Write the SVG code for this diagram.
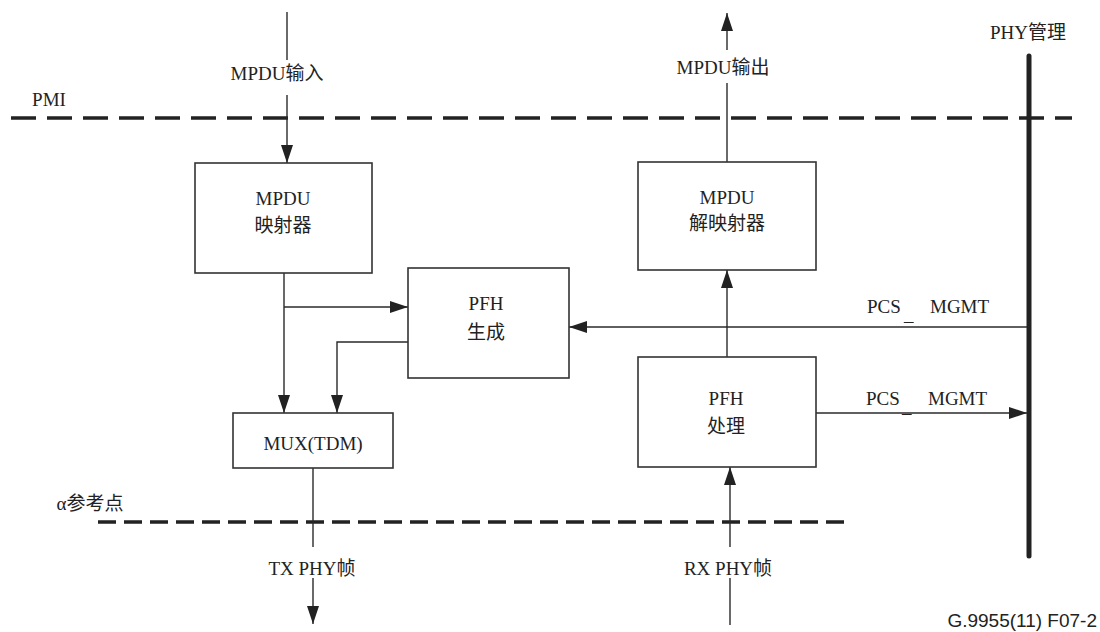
<svg xmlns="http://www.w3.org/2000/svg" width="1100" height="632" viewBox="0 0 1100 632">
<style>
.t{font-family:"Liberation Serif","Noto Sans CJK SC",serif;font-size:19px;fill:#222;text-anchor:middle}
.box{fill:#fff;stroke:#333;stroke-width:1.6}
.ln{fill:none;stroke:#2a2a2a;stroke-width:1.4}
.dash{fill:none;stroke:#222;stroke-width:3.5}
</style>
<defs>
<marker id="ah" markerUnits="userSpaceOnUse" markerWidth="18" markerHeight="12" refX="18" refY="6" orient="auto">
<path d="M0,0 L18,6 L0,12 z" fill="#222"/>
</marker>
</defs>
<rect width="1100" height="632" fill="#fff"/>
<g id="boundaries">
<line class="dash" x1="11" y1="118" x2="1072" y2="118" stroke-dasharray="25 11"/>
<text class="t" x="49" y="106">PMI</text>
<line class="dash" x1="98" y1="522" x2="849" y2="522" stroke-dasharray="18 8"/>
<text class="t" x="90" y="510">α参考点</text>
</g>
<g id="phy-mgmt">
<line x1="1029" y1="56" x2="1029" y2="556" stroke="#222" stroke-width="5" stroke-linecap="round"/>
<text class="t" x="1028" y="39">PHY管理</text>
</g>
<g id="connectors">
<line class="ln" x1="287" y1="12" x2="287" y2="60"/>
<line class="ln" x1="287" y1="95" x2="287" y2="163" marker-end="url(#ah)"/>
<line class="ln" x1="284" y1="273" x2="284" y2="413" marker-end="url(#ah)"/>
<line class="ln" x1="284" y1="307" x2="408" y2="307" marker-end="url(#ah)"/>
<polyline class="ln" points="408,342 337,342 337,413" marker-end="url(#ah)"/>
<line class="ln" x1="313" y1="468" x2="313" y2="547"/>
<line class="ln" x1="313" y1="578" x2="313" y2="624" marker-end="url(#ah)"/>
<line class="ln" x1="730" y1="625" x2="730" y2="578"/>
<line class="ln" x1="730" y1="547" x2="730" y2="467" marker-end="url(#ah)"/>
<line class="ln" x1="727" y1="357" x2="727" y2="270" marker-end="url(#ah)"/>
<line class="ln" x1="727" y1="162" x2="727" y2="83"/>
<line class="ln" x1="727" y1="50" x2="727" y2="13" marker-end="url(#ah)"/>
<line class="ln" x1="1027" y1="327" x2="569" y2="327" marker-end="url(#ah)"/>
<line class="ln" x1="816" y1="413" x2="1027" y2="413" marker-end="url(#ah)"/>
<text class="t" x="277" y="80">MPDU输入</text>
<text class="t" x="723" y="74">MPDU输出</text>
<text class="t" x="312" y="575">TX PHY帧</text>
<text class="t" x="728" y="575">RX PHY帧</text>
<text class="t" style="text-anchor:start"><tspan x="867" y="313">PCS</tspan><tspan x="904" y="321">_</tspan><tspan x="930" y="313">MGMT</tspan></text>
<text class="t" style="text-anchor:start"><tspan x="866" y="405">PCS</tspan><tspan x="902" y="413">_</tspan><tspan x="928" y="405">MGMT</tspan></text>
</g>
<g id="mpdu-mapper">
<rect class="box" x="195" y="163" width="177" height="110"/>
<text class="t" x="283" y="205">MPDU</text>
<text class="t" x="283" y="232">映射器</text>
</g>
<g id="pfh-gen">
<rect class="box" x="408" y="268" width="161" height="110"/>
<text class="t" x="486" y="310">PFH</text>
<text class="t" x="486" y="339">生成</text>
</g>
<g id="mux">
<rect class="box" x="233" y="413" width="160" height="55"/>
<text class="t" x="313" y="450">MUX(TDM)</text>
</g>
<g id="mpdu-demapper">
<rect class="box" x="638" y="162" width="178" height="108"/>
<text class="t" x="727" y="204">MPDU</text>
<text class="t" x="727" y="230">解映射器</text>
</g>
<g id="pfh-proc">
<rect class="box" x="638" y="357" width="178" height="110"/>
<text class="t" x="726" y="405">PFH</text>
<text class="t" x="726" y="433">处理</text>
</g>
<text x="1097" y="627" style="font-family:'Liberation Sans',sans-serif;font-size:19px;fill:#222;text-anchor:end">G.9955(11)  F07-2</text>
</svg>
